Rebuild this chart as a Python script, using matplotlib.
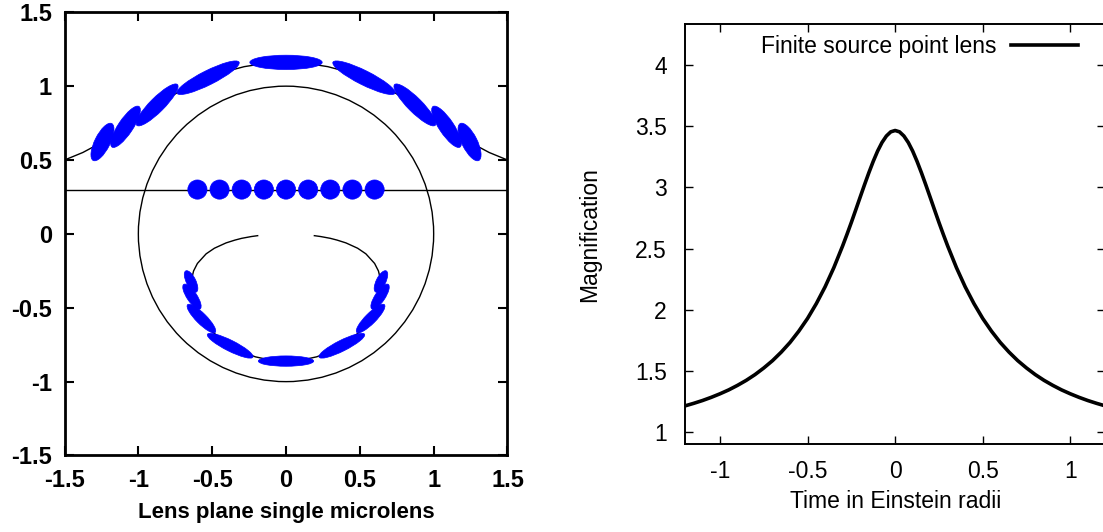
import matplotlib
matplotlib.use("Agg")
import matplotlib.pyplot as plt
from matplotlib.patches import Circle, Ellipse

plt.rcParams['font.family'] = ['Liberation Sans', 'DejaVu Sans']
plt.rcParams['axes.unicode_minus'] = False

# ---- lens plane (left) ----
src_x = [-0.6, -0.45, -0.3, -0.15, 0.0, 0.15, 0.3, 0.45, 0.6]
src_y = 0.3
src_r = 0.065
einstein_r = 1.0

# major images (outside the ring): centre, length, thickness, angle
up_x = [-1.243, -1.087, -0.873, -0.528, 0.0, 0.528, 0.873, 1.087, 1.243]
up_y = [0.622, 0.725, 0.873, 1.057, 1.161, 1.057, 0.873, 0.725, 0.622]
up_w = [0.280, 0.330, 0.390, 0.470, 0.490, 0.470, 0.390, 0.330, 0.280]
up_h = [0.104, 0.100, 0.098, 0.097, 0.097, 0.097, 0.098, 0.100, 0.104]
up_ang = [63.4, 56.3, 45.0, 26.6, 0.0, 153.4, 135.0, 123.7, 116.6]

# minor images (inside the ring)
lo_x = [0.643, 0.637, 0.573, 0.378, 0.0, -0.378, -0.573, -0.637, -0.643]
lo_y = [-0.322, -0.425, -0.573, -0.757, -0.861, -0.757, -0.573, -0.425, -0.322]
lo_w = [0.160, 0.200, 0.265, 0.345, 0.375, 0.345, 0.265, 0.200, 0.160]
lo_h = [0.064, 0.068, 0.072, 0.074, 0.070, 0.074, 0.072, 0.068, 0.064]
lo_ang = [63.4, 56.3, 45.0, 26.6, 0.0, 153.4, 135.0, 123.7, 116.6]

# image tracks
track_up_x = [-1.581, -1.500, -1.376, -1.243, -1.170, -1.087, -0.991, -0.873, -0.723,
              -0.632, -0.528, -0.412, -0.283, -0.144, 0.000, 0.144, 0.283, 0.412,
              0.528, 0.632, 0.723, 0.873, 0.991, 1.087, 1.170, 1.243, 1.376, 1.500, 1.581]
track_up_y = [0.474, 0.500, 0.551, 0.622, 0.668, 0.725, 0.793, 0.873, 0.964,
              1.011, 1.057, 1.098, 1.132, 1.154, 1.161, 1.154, 1.132, 1.098,
              1.057, 1.011, 0.964, 0.873, 0.793, 0.725, 0.668, 0.622, 0.551, 0.500, 0.474]

track_lo_x = [-0.192, -0.235, -0.300, -0.346, -0.406, -0.485, -0.541, -0.600, -0.626,
              -0.643, -0.645, -0.637, -0.616, -0.573, -0.498, -0.378, -0.299, -0.208,
              -0.107, 0.000, 0.107, 0.208, 0.299, 0.378, 0.498, 0.573, 0.616, 0.637,
              0.645, 0.643, 0.626, 0.600, 0.541, 0.485, 0.406, 0.346, 0.300, 0.235, 0.192]
track_lo_y = [-0.012, -0.018, -0.030, -0.042, -0.061, -0.097, -0.135, -0.200, -0.251,
              -0.322, -0.368, -0.425, -0.493, -0.573, -0.664, -0.757, -0.798, -0.832,
              -0.854, -0.861, -0.854, -0.832, -0.798, -0.757, -0.664, -0.573, -0.493, -0.425,
              -0.368, -0.322, -0.251, -0.200, -0.135, -0.097, -0.061, -0.042, -0.030, -0.018, -0.012]

lens_ticks = [-1.5, -1, -0.5, 0, 0.5, 1, 1.5]
lens_ticklabels = ['-1.5', '-1', '-0.5', '0', '0.5', '1', '1.5']

# ---- light curve (right) ----
t = [-1.2, -1.15, -1.1, -1.05, -1.0, -0.95, -0.9, -0.85, -0.8, -0.75, -0.7, -0.65, -0.6,
     -0.55, -0.5, -0.45, -0.4, -0.35, -0.3, -0.275, -0.25, -0.225, -0.2, -0.175, -0.15,
     -0.125, -0.1, -0.075, -0.05, -0.025, 0.0, 0.025, 0.05, 0.075, 0.1, 0.125, 0.15,
     0.175, 0.2, 0.225, 0.25, 0.275, 0.3, 0.35, 0.4, 0.45, 0.5, 0.55, 0.6, 0.65, 0.7,
     0.75, 0.8, 0.85, 0.9, 0.95, 1.0, 1.05, 1.1, 1.15, 1.2]
mag = [1.214, 1.235, 1.258, 1.284, 1.313, 1.345, 1.382, 1.423, 1.470, 1.524, 1.584, 1.654, 1.733,
       1.825, 1.929, 2.050, 2.187, 2.344, 2.521, 2.616, 2.714, 2.816, 2.919, 3.021, 3.120,
       3.213, 3.297, 3.367, 3.420, 3.454, 3.465, 3.454, 3.420, 3.367, 3.297, 3.213, 3.120,
       3.021, 2.919, 2.816, 2.714, 2.616, 2.521, 2.344, 2.187, 2.050, 1.929, 1.825, 1.733, 1.654, 1.584,
       1.524, 1.470, 1.423, 1.382, 1.345, 1.313, 1.284, 1.258, 1.235, 1.214]

time_ticks = [-1, -0.5, 0, 0.5, 1]
time_ticklabels = ['-1', '-0.5', '0', '0.5', '1']
mag_ticks = [1, 1.5, 2, 2.5, 3, 3.5, 4]
mag_ticklabels = ['1', '1.5', '2', '2.5', '3', '3.5', '4']

blue = '#0000ff'

fig = plt.figure(figsize=(11.03, 5.32), dpi=100)

# left panel
ax1 = fig.add_axes([0.0585, 0.1438, 0.4016, 0.8331])
ax1.plot(track_up_x, track_up_y, color='black', lw=1.0)
ax1.plot(track_lo_x, track_lo_y, color='black', lw=1.0)
ax1.axhline(src_y, color='black', lw=1.0)
ax1.add_patch(Circle((0, 0), einstein_r, fill=False, edgecolor='black', lw=1.0))
for x in src_x:
    ax1.add_patch(Circle((x, src_y), src_r, facecolor=blue, edgecolor=blue, lw=0.5, zorder=3))
for i in range(len(up_x)):
    ax1.add_patch(Ellipse((up_x[i], up_y[i]), up_w[i], up_h[i], angle=up_ang[i],
                          facecolor=blue, edgecolor=blue, lw=0.5, zorder=3))
    ax1.add_patch(Ellipse((lo_x[i], lo_y[i]), lo_w[i], lo_h[i], angle=lo_ang[i],
                          facecolor=blue, edgecolor=blue, lw=0.5, zorder=3))
ax1.set_xlim(-1.5, 1.5)
ax1.set_ylim(-1.5, 1.5)
ax1.set_xticks(lens_ticks)
ax1.set_xticklabels(lens_ticklabels)
ax1.set_yticks(lens_ticks)
ax1.set_yticklabels(lens_ticklabels)
ax1.tick_params(direction='in', top=True, right=True, length=6.5, width=1.5,
                labelsize=17)
ax1.tick_params(axis='x', pad=10)
ax1.tick_params(axis='y', pad=9)
for lab in ax1.get_xticklabels() + ax1.get_yticklabels():
    lab.set_fontweight('bold')
for sp in ax1.spines.values():
    sp.set_linewidth(2.0)
ax1.set_xlabel('Lens plane single microlens', fontsize=16, fontweight='bold', va='center')
ax1.xaxis.set_label_coords(0.5, -0.1297)

# right panel
ax2 = fig.add_axes([0.6210, 0.1648, 0.3811, 0.7900])
ax2.plot(t, mag, color='black', lw=2.6, label='Finite source point lens')
ax2.set_xlim(-1.2, 1.2)
ax2.set_ylim(0.9, 4.335)
ax2.set_xticks(time_ticks)
ax2.set_xticklabels(time_ticklabels)
ax2.set_yticks(mag_ticks)
ax2.set_yticklabels(mag_ticklabels)
ax2.tick_params(direction='in', top=True, right=True, length=6, width=1.0,
                labelsize=16.5)
ax2.tick_params(axis='x', pad=11)
ax2.tick_params(axis='y', pad=13)
for sp in ax2.spines.values():
    sp.set_linewidth(1.4)
ax2.set_xlabel('Time in Einstein radii', fontsize=16.5, va='center')
ax2.xaxis.set_label_coords(0.5, -0.135)
ax2.set_ylabel('Magnification', fontsize=16.5, va='center')
ax2.yaxis.set_label_coords(-0.2265, 0.5)
ax2.legend(loc='center right', bbox_to_anchor=(0.934, 0.9477), frameon=False,
           markerfirst=False, fontsize=16.5, handlelength=2.9, handletextpad=0.64,
           borderpad=0, borderaxespad=0)

fig.savefig('out.png', dpi=100)
